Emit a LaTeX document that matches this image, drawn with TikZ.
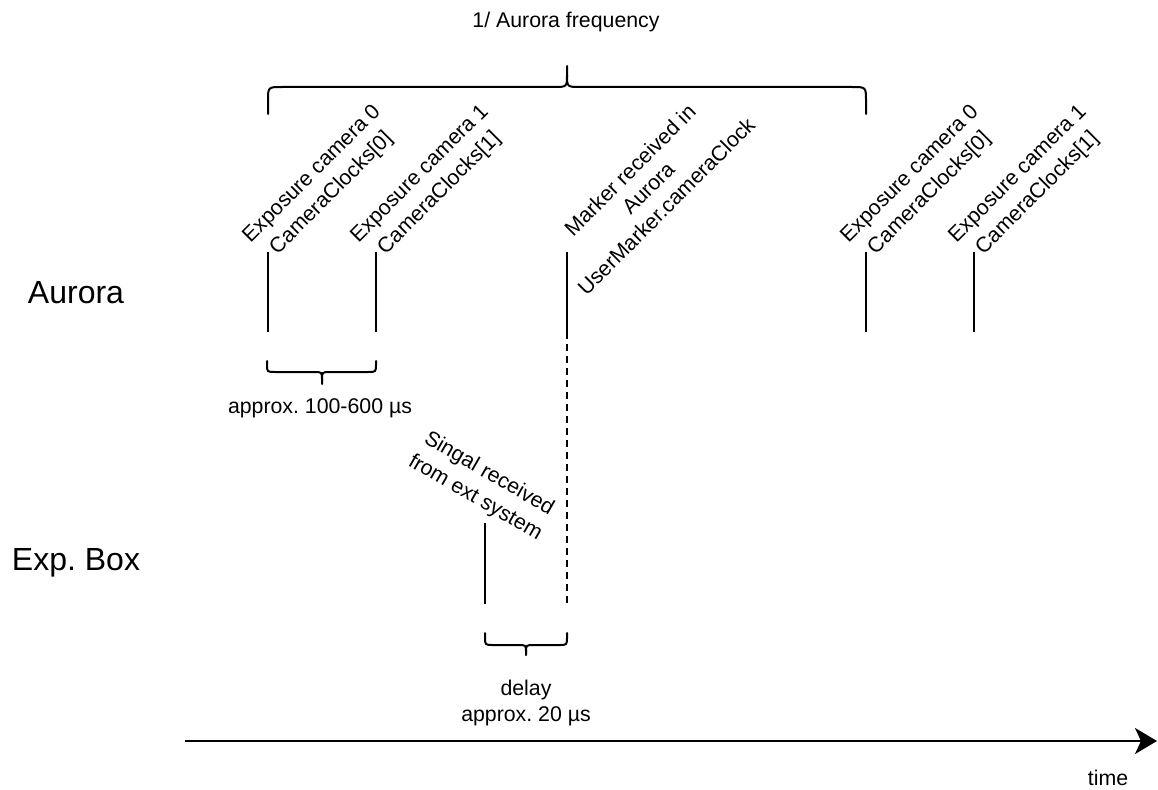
\documentclass[tikz,border=0pt]{standalone}
\usepackage{fontspec}
\setmainfont{Liberation Sans}
\usetikzlibrary{arrows.meta}
\frenchspacing
\begin{document}
\begin{tikzpicture}[x=1pt,y=-1pt,
  lab/.style={font=\fontsize{21.3}{25.6}\selectfont, align=center, inner sep=0pt},
  rlab/.style={font=\fontsize{21.3}{27.5}\selectfont, align=center, inner sep=0pt},
  big/.style={font=\fontsize{32}{38}\selectfont, inner sep=0pt},
  tick/.style={line width=2pt},
  brace/.style={line width=2pt, line join=round, line cap=round},
  dash line/.style={line width=2pt, dash pattern=on 7pt off 5pt}]
\useasboundingbox (0,0) rectangle (1158,789);
% labels
\node[lab] (freq) at (566,22) {1/ Aurora frequency};
\node[big] (aur) at (76,293) {Aurora};
\node[big] (exp) at (76,563) {Exp. Box};
\node[rlab, rotate=45] (l1) at (322,184) {Exposure camera 0\\CameraClocks[0]};
\node[rlab, rotate=45] (l2) at (430,184) {Exposure camera 1\\CameraClocks[1]};
\node[lab, rotate=45] (lm) at (648,188) {Marker received in\\Aurora\\UserMarker.cameraClock};
\node[rlab, rotate=45] (l3) at (920,184) {Exposure camera 0\\CameraClocks[0]};
\node[rlab, rotate=45] (l4) at (1028,184) {Exposure camera 1\\CameraClocks[1]};
\node[rlab, rotate=-30] (sig) at (482,486) {Singal received\\from ext system};
\node[lab] (r1) at (320,408) {approx. 100-600 µs};
\node[lab] (dl) at (526,703) {delay\\approx. 20 µs};
\node[lab] (time) at (1108,778) {time};
% tick coordinates
\foreach \n/\x in {a/268,b/376,m/567,c/866,d/974}{
  \coordinate (\n t) at (\x,252);
  \coordinate (\n b) at (\x,332);
}
\coordinate (mdt) at (567,332);
\coordinate (mdb) at (567,604);
\coordinate (st) at (485,523);
\coordinate (sb) at (485,604);
% ticks
\foreach \n in {a,b,m,c,d}{\draw[tick] (\n t) -- (\n b);}
\draw[dash line] (mdt) -- (mdb);
\draw[tick] (st) -- (sb);
% top brace
\draw[brace] (268,114) -- (268,101) .. controls (268,87) .. (282,87) -- (553,87)
  .. controls (567,87) .. (567,75) -- (567,66);
\draw[brace] (866,114) -- (866,101) .. controls (866,87) .. (852,87) -- (581,87)
  .. controls (567,87) .. (567,75);
% lower brace
\draw[brace] (267,361) -- (267,364) .. controls (267,372) .. (275,372) -- (314,372)
  .. controls (322,372) .. (322,380) -- (322,384);
\draw[brace] (376,361) -- (376,364) .. controls (376,372) .. (368,372) -- (330,372)
  .. controls (322,372) .. (322,380);
% delay brace
\draw[brace] (485,633) -- (485,637) .. controls (485,645) .. (493,645) -- (518,645)
  .. controls (526,645) .. (526,652) -- (526,655);
\draw[brace] (567,633) -- (567,637) .. controls (567,645) .. (559,645) -- (534,645)
  .. controls (526,645) .. (526,652);
% time axis
\coordinate (ts) at (185,741);
\coordinate (te) at (1157,741);
\draw[line width=2.5pt, -{Stealth[length=22pt,width=26pt,inset=6pt]}] (ts) -- (te);
\end{tikzpicture}
\end{document}
